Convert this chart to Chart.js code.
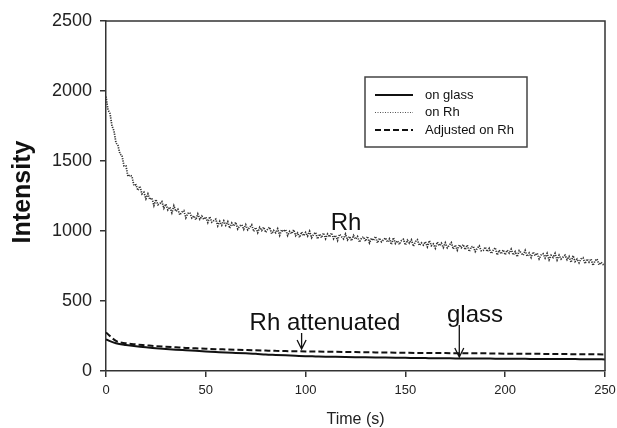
<!DOCTYPE html>
<html>
<head>
<meta charset="utf-8">
<script src="https://cdn.jsdelivr.net/npm/chart.js@4.4.1/dist/chart.umd.min.js"></script>
<style>
  html, body { margin: 0; padding: 0; background: #fff; }
  canvas { display: block; }
</style>
</head>
<body>
<canvas id="chart" width="617" height="428"></canvas>
<script>
// on Rh, one reading per second, 0..250 s
const rhIntensity = [
  1960, 1865, 1840, 1750, 1715, 1630, 1610, 1550, 1540, 1465,
  1465, 1390, 1400, 1390, 1325, 1330, 1290, 1320, 1265, 1277,
  1230, 1265, 1225, 1236, 1182, 1225, 1188, 1196, 1210, 1163,
  1192, 1151, 1171, 1130, 1180, 1140, 1155, 1115, 1135, 1145,
  1095, 1126, 1132, 1093, 1109, 1080, 1122, 1084, 1106, 1083,
  1100, 1061, 1102, 1063, 1074, 1085, 1037, 1069, 1041, 1073,
  1040, 1067, 1020, 1057, 1035, 1062, 1015, 1037, 1045, 1012,
  1045, 1008, 1026, 1044, 997, 1025, 988, 1026, 1004, 1027,
  990, 1013, 1027, 980, 1004, 987, 1016, 969, 1008, 996,
  1010, 968, 997, 980, 1009, 967, 986, 954, 993, 966,
  990, 964, 998, 952, 976, 990, 944, 978, 952, 986,
  945, 979, 958, 986, 945, 969, 933, 977, 960, 944,
  978, 937, 961, 930, 968, 942, 961, 920, 949, 958,
  927, 961, 915, 948, 932, 961, 915, 949, 923, 937,
  951, 920, 944, 903, 952, 911, 930, 904, 932, 941,
  900, 934, 913, 937, 891, 924, 938, 897, 916, 900,
  923, 887, 931, 895, 908, 877, 921, 895, 913, 882,
  916, 880, 898, 917, 871, 900, 863, 901, 880, 903,
  867, 900, 853, 887, 890, 853, 876, 894, 858, 861,
  885, 853, 876, 839, 863, 881, 829, 863, 836, 865,
  830, 863, 842, 870, 829, 853, 816, 860, 843, 827,
  861, 819, 843, 811, 850, 824, 842, 801, 829, 838,
  807, 840, 794, 827, 811, 840, 793, 827, 800, 814,
  827, 795, 818, 776, 824, 782, 800, 773, 801, 809,
  767, 800, 778, 801, 754, 787, 800, 758, 777, 761, 765
];

// on glass and adjusted on Rh, one reading every 5 s, 0..250 s
const glassIntensity = [
  225, 198, 185, 176, 169, 163, 157, 152, 148, 144,
  140, 136, 132, 129, 126, 123, 118, 115, 112, 109,
  106, 104, 102, 101, 100, 99, 98, 97, 96, 95,
  94, 93, 92, 91, 91, 90, 90, 89, 89, 88,
  88, 87, 87, 86, 86, 86, 85, 85, 84, 84, 83
];
const adjustedIntensity = [
  275, 215, 198, 190, 184, 178, 173, 169, 165, 162,
  159, 156, 154, 152, 150, 148, 146, 144, 142, 141,
  140, 139, 138, 137, 136, 135, 134, 133, 132, 131,
  130, 129, 129, 128, 128, 127, 127, 126, 126, 125,
  124, 124, 123, 123, 122, 121, 121, 120, 120, 119, 118
];

const xTicks = [0, 50, 100, 150, 200, 250];
const yTicks = [0, 500, 1000, 1500, 2000, 2500];

const FONT = '"Liberation Sans", Arial, Helvetica, sans-serif';

const toPoints = (values, step) => values.map((v, i) => ({ x: i * step, y: v }));

// frame on top/right, legend box and text notes
const decorations = {
  id: "decorations",
  afterDraw(chart) {
    const { ctx, chartArea: a, scales } = chart;
    ctx.save();
    ctx.strokeStyle = "#333";
    ctx.lineWidth = 1.5;
    ctx.beginPath();
    ctx.moveTo(a.left, a.top);
    ctx.lineTo(a.right, a.top);
    ctx.lineTo(a.right, a.bottom);
    ctx.stroke();

    // legend
    const lx = 365, ly = 77, lw = 162, lh = 70;
    ctx.lineWidth = 1.5;
    ctx.strokeStyle = "#444";
    ctx.strokeRect(lx, ly, lw, lh);
    ctx.font = "13px " + FONT;
    ctx.textBaseline = "middle";
    ctx.fillStyle = "#111";
    const legendItems = [
      { label: "on glass", dash: [], width: 1.8, color: "#111" },
      { label: "on Rh", dash: [1, 1.5], width: 1, color: "#555" },
      { label: "Adjusted on Rh", dash: [6, 3], width: 1.8, color: "#111" }
    ];
    legendItems.forEach((it, i) => {
      const y = ly + 18 + i * 17.5;
      ctx.beginPath();
      ctx.setLineDash(it.dash);
      ctx.strokeStyle = it.color;
      ctx.lineWidth = it.width;
      ctx.moveTo(375, y);
      ctx.lineTo(413, y);
      ctx.stroke();
      ctx.setLineDash([]);
      ctx.fillText(it.label, 425, y);
    });

    // notes
    ctx.fillStyle = "#111";
    ctx.font = "24px " + FONT;
    ctx.textBaseline = "alphabetic";
    ctx.textAlign = "center";
    ctx.fillText("Rh", 346, 230);
    ctx.fillText("Rh attenuated", 325, 330);
    ctx.fillText("glass", 475, 322);

    const arrow = (t, y1, y2) => {
      const x = scales.x.getPixelForValue(t);
      ctx.beginPath();
      ctx.strokeStyle = "#111";
      ctx.lineWidth = 1.3;
      ctx.moveTo(x, y1);
      ctx.lineTo(x, y2);
      ctx.moveTo(x - 4.5, y2 - 9);
      ctx.lineTo(x, y2);
      ctx.lineTo(x + 4.5, y2 - 9);
      ctx.stroke();
    };
    arrow(98, 333, 349);
    arrow(177, 325, 357);

    // y axis title
    ctx.font = "bold 25px " + FONT;
    ctx.translate(23, 192);
    ctx.rotate(-Math.PI / 2);
    ctx.textBaseline = "middle";
    ctx.fillText("Intensity", 0, 0);
    ctx.restore();
  }
};

new Chart(document.getElementById("chart"), {
  type: "line",
  data: {
    datasets: [
      {
        label: "Adjusted on Rh",
        data: toPoints(adjustedIntensity, 5),
        borderColor: "#111",
        borderWidth: 2,
        borderDash: [6, 3],
        cubicInterpolationMode: "monotone",
        pointRadius: 0
      },
      {
        label: "on Rh",
        data: toPoints(rhIntensity, 1),
        borderColor: "#333",
        borderWidth: 1.7,
        borderDash: [1.2, 1.2],
        pointRadius: 0
      },
      {
        label: "on glass",
        data: toPoints(glassIntensity, 5),
        borderColor: "#111",
        borderWidth: 2,
        cubicInterpolationMode: "monotone",
        pointRadius: 0
      }
    ]
  },
  options: {
    responsive: false,
    animation: false,
    layout: { padding: { top: 21, right: 12, left: 0, bottom: 0 } },
    plugins: {
      legend: { display: false },
      tooltip: { enabled: false }
    },
    scales: {
      x: {
        type: "linear",
        min: 0,
        max: 250,
        afterBuildTicks: (s) => { s.ticks = xTicks.map((v) => ({ value: v })); },
        afterFit: (s) => { s.height = 57; s.paddingLeft = 0; s.paddingRight = 0; },
        grid: { drawOnChartArea: false, drawTicks: true, tickLength: 6, color: "#333", lineWidth: 1.5 },
        border: { display: true, color: "#333", width: 1.5 },
        ticks: { color: "#222", padding: 6, font: { family: FONT, size: 13 }, maxRotation: 0 },
        title: {
          display: true,
          text: "Time (s)",
          color: "#222",
          padding: { top: 0, bottom: 0 },
          font: { family: FONT, size: 16, lineHeight: 1 }
        }
      },
      y: {
        min: 0,
        max: 2500,
        afterBuildTicks: (s) => { s.ticks = yTicks.map((v) => ({ value: v })); },
        afterFit: (s) => { s.width = 106; s.paddingTop = 0; s.paddingBottom = 0; },
        grid: { drawOnChartArea: false, drawTicks: true, tickLength: 6, color: "#333", lineWidth: 1.5 },
        border: { display: true, color: "#333", width: 1.5 },
        ticks: { color: "#222", padding: 8, font: { family: FONT, size: 18 }, callback: (v) => String(v) }
      }
    }
  },
  plugins: [decorations]
});
</script>
</body>
</html>
